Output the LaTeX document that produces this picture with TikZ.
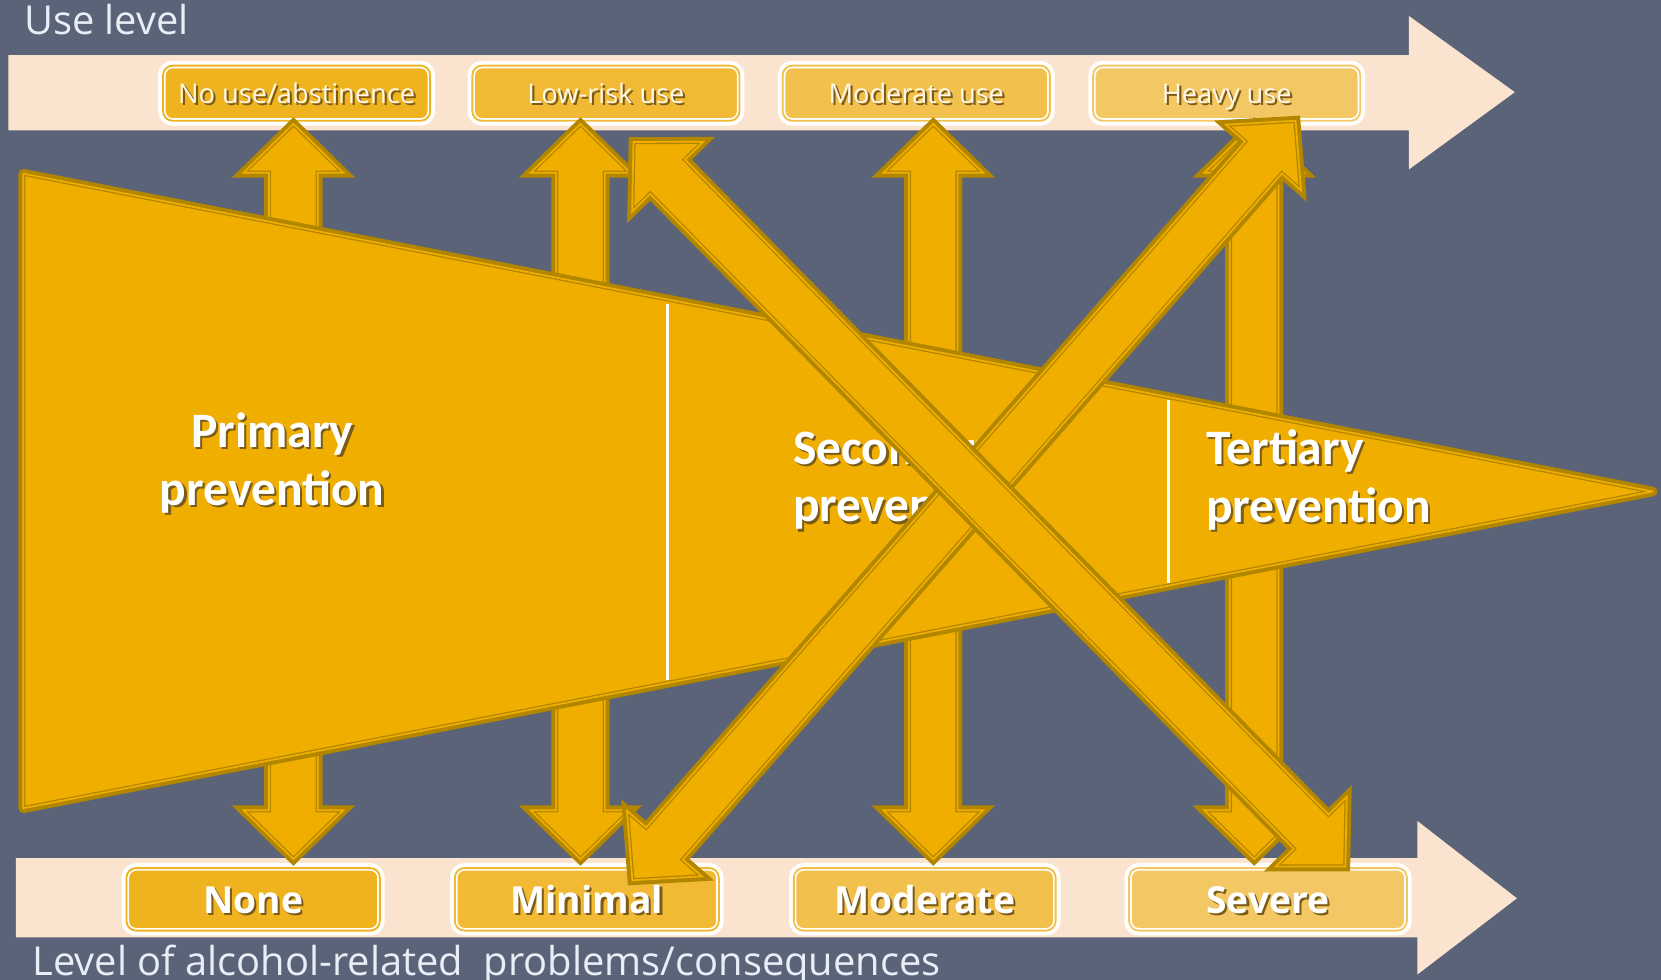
\documentclass[tikz,border=0pt]{standalone}
\usepackage{fontspec}
\setmainfont{Open Sans}
\newfontfamily\prevfont{Carlito}
\usetikzlibrary{calc}

\definecolor{slate}{HTML}{5A6378}
\definecolor{peach}{HTML}{FBE4CF}
\definecolor{amber}{HTML}{F0AE00}
\definecolor{gold}{HTML}{B38600}
\definecolor{boxA}{HTML}{F0B320}
\definecolor{boxB}{HTML}{F1B934}
\definecolor{boxC}{HTML}{F2C04C}
\definecolor{boxD}{HTML}{F3C864}
\definecolor{cream}{HTML}{FFF7E8}
\definecolor{captionc}{HTML}{E8EEF6}
\definecolor{shadowc}{HTML}{7A5C18}

% arrow sizes (picture units are 0.01cm)
\newcommand{\headlen}{0.46cm}
\newcommand{\headhw}{0.47cm}
\newcommand{\shafthw}{0.23cm}

% text with a small drop shadow
\newcommand{\shd}[1]{\rlap{\kern0.6pt\raisebox{-0.6pt}{\textcolor{shadowc}{#1}}}#1}

% double headed block arrow between two named coordinates
\newcommand{\blockarrow}[2]{%
  \path ($(#1)!\headlen!(#2)$) coordinate (#1base) ($(#2)!\headlen!(#1)$) coordinate (#2base);
  \draw[arrowbody] (#1) -- ($(#1base)!\headhw!-90:(#2)$) -- ($(#1base)!\shafthw!-90:(#2)$)
    -- ($(#2base)!\shafthw!90:(#1)$) -- ($(#2base)!\headhw!90:(#1)$) -- (#2)
    -- ($(#2base)!\headhw!-90:(#1)$) -- ($(#2base)!\shafthw!-90:(#1)$)
    -- ($(#1base)!\shafthw!90:(#2)$) -- ($(#1base)!\headhw!90:(#2)$) -- cycle;}

\begin{document}
\begin{tikzpicture}[x=0.01cm, y=-0.01cm,
    bar/.style={fill=peach},
    arrowbody/.style={fill=amber, draw=gold, double=amber, double distance=0.46pt,
      line width=0.35pt, preaction={draw=gold, line width=2.6pt}},
    funnel/.style={fill=amber, draw=gold, double=amber, double distance=0.46pt,
      line width=0.35pt, line join=round,
      preaction={draw=gold, line width=2.6pt, line join=round}},
    glowbox/.style={rectangle, rounded corners=0.09cm, fill=#1, draw=white, double=#1,
      double distance=0.5pt, line width=0.45pt, preaction={draw=white, line width=2.6pt},
      inner sep=0pt},
    toptext/.style={text=cream, font=\fontsize{7.3}{9}\selectfont,
      text height=1.4ex, text depth=0.35ex, minimum width=2.52cm, minimum height=0.52cm},
    bottext/.style={text=white, font=\bfseries\fontsize{10}{12}\selectfont,
      text height=1.5ex, text depth=0.1ex, minimum height=0.59cm},
    prevlabel/.style={text=white, inner sep=0pt,
      font=\prevfont\bfseries\fontsize{13.3}{15.4}\selectfont},
    caption/.style={text=captionc, inner sep=0pt, font=\fontsize{10.7}{12}\selectfont},
    divider/.style={draw=white, line width=0.9pt}]
  \fill[slate] (0,0) rectangle (1568,925);
  \useasboundingbox (0,0) rectangle (1568,925);

  % the two scales
  \fill[bar] (8,52) -- (1330,52) -- (1330,15) -- (1430,87) -- (1330,160) -- (1330,123) -- (8,123) -- cycle;
  \fill[bar] (15,810) -- (1338,810) -- (1338,775) -- (1432,848) -- (1338,920) -- (1338,885) -- (15,885) -- cycle;
  \node[caption, anchor=base west] (UseLevel) at (22,33) {Use level};
  \node[caption, anchor=base west] (ProblemLevel) at (30,921) {Level of alcohol-related\ \ problems/consequences};

  \node[glowbox=boxA, toptext] (NoUse) at (280,88) {\shd{No use/abstinence}};
  \node[glowbox=boxB, toptext] (LowRisk) at (572,88) {\shd{Low-risk use}};
  \node[glowbox=boxC, toptext] (ModerateUse) at (865,88) {\shd{Moderate use}};
  \node[glowbox=boxD, toptext] (HeavyUse) at (1158,88) {\shd{Heavy use}};

  \node[glowbox=boxA, bottext, minimum width=2.39cm] (None) at (239,849) {\shd{None}};
  \node[glowbox=boxB, bottext, minimum width=2.49cm] (Minimal) at (554,849) {\shd{Minimal}};
  \node[glowbox=boxC, bottext, minimum width=2.47cm] (Moderate) at (873,849) {\shd{Moderate}};
  \node[glowbox=boxD, bottext, minimum width=2.62cm] (Severe) at (1197,849) {\shd{Severe}};

  % arrow ends
  \coordinate (AbstUp) at (277,117);    \coordinate (AbstDown) at (277,811);
  \coordinate (LowUp) at (548,117);     \coordinate (LowDown) at (548,811);
  \coordinate (ModUp) at (881,117);     \coordinate (ModDown) at (881,811);
  \coordinate (HeavyUp) at (1184,117);  \coordinate (HeavyDown) at (1184,811);
  \coordinate (CrossNW) at (598,134);   \coordinate (CrossSE) at (1270,818);
  \coordinate (CrossSW) at (597,831);   \coordinate (CrossNE) at (1223,114);

  \blockarrow{AbstUp}{AbstDown}
  \blockarrow{LowUp}{LowDown}
  \blockarrow{ModUp}{ModDown}
  \blockarrow{HeavyUp}{HeavyDown}

  % the prevention funnel
  \coordinate (FunnelNW) at (22,164);
  \coordinate (FunnelSW) at (22,763);
  \coordinate (FunnelTip) at (1560,464);
  \draw[funnel] (FunnelNW) -- (FunnelTip) -- (FunnelSW) -- cycle;
  \draw[divider] (630,287) -- (630,642);
  \draw[divider] (1103,378) -- (1103,550);
  \node[prevlabel, align=center] (Primary) at (257,438) {\shd{Primary}\\\shd{prevention}};
  \node[prevlabel, align=left, anchor=west] (Secondary) at (748,454) {\shd{Secondary}\\\shd{prevention}};
  \node[prevlabel, align=left, anchor=west] (Tertiary) at (1138,454) {\shd{Tertiary}\\\shd{prevention}};

  \blockarrow{CrossSW}{CrossNE}
  \blockarrow{CrossNW}{CrossSE}
\end{tikzpicture}
\end{document}
